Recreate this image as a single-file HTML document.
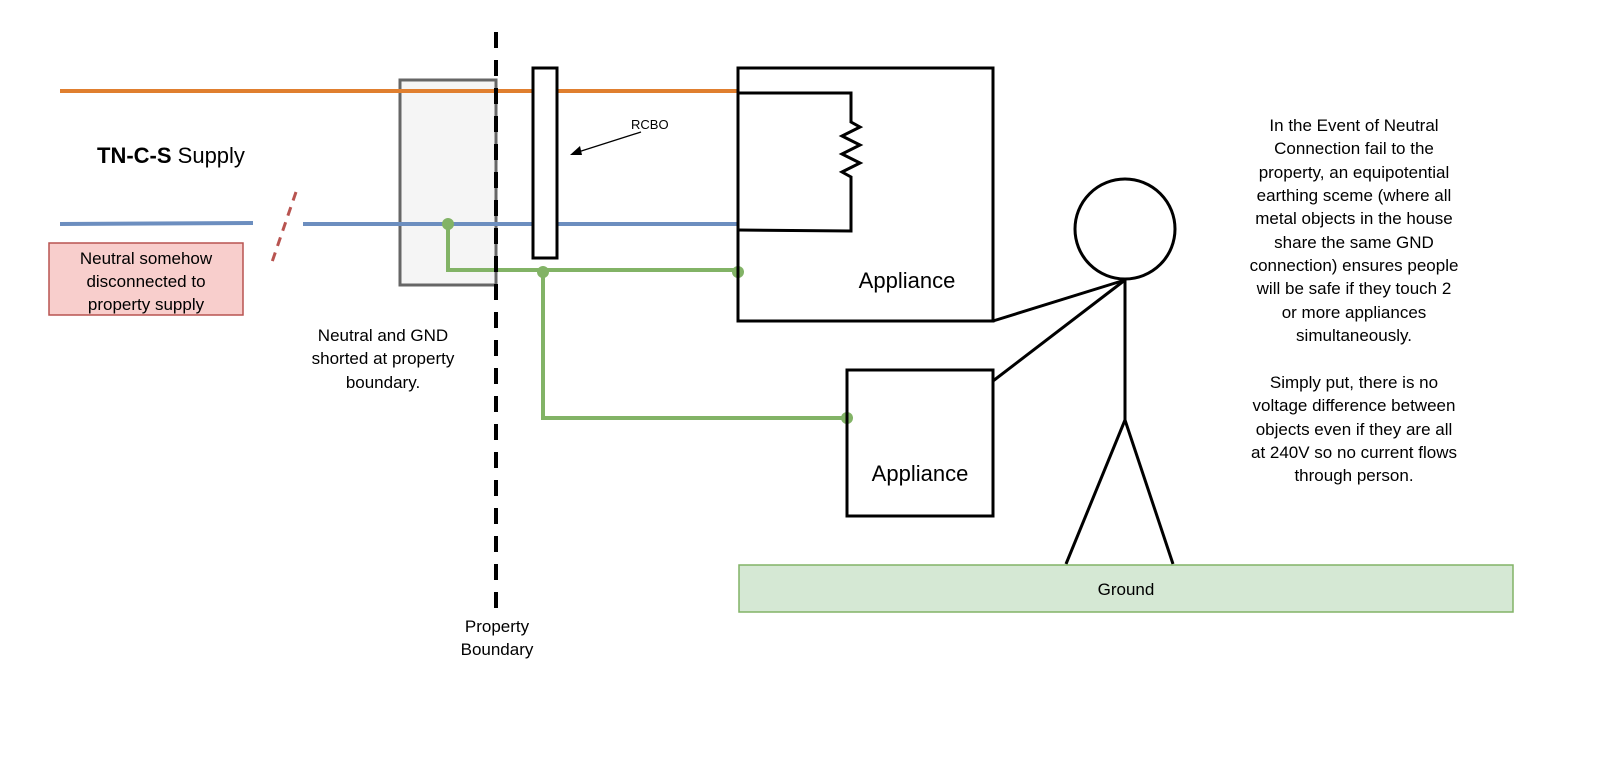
<!DOCTYPE html>
<html><head><meta charset="utf-8"><style>
html,body{margin:0;padding:0;background:#fff;}
svg{display:block;}
text{font-family:"Liberation Sans",Arial,sans-serif;fill:#000;}
</style></head><body>
<svg width="1600" height="784" viewBox="0 0 1600 784" xmlns="http://www.w3.org/2000/svg">
<!-- gray box -->
<rect x="400" y="80" width="96" height="205" fill="#f5f5f5" stroke="#666" stroke-width="3"/>
<!-- orange live -->
<line x1="60" y1="91" x2="738" y2="91" stroke="#e07f2f" stroke-width="4"/>
<!-- blue neutral -->
<line x1="60" y1="224" x2="253" y2="223" stroke="#6c8ebf" stroke-width="4"/>
<line x1="303" y1="224" x2="738" y2="224" stroke="#6c8ebf" stroke-width="4"/>
<!-- red dashed break -->
<line x1="296" y1="192" x2="271" y2="265" stroke="#b85450" stroke-width="3" stroke-dasharray="9,7"/>
<!-- red box -->
<rect x="49" y="243" width="194" height="72" fill="#f8cecc" stroke="#b85450" stroke-width="1.5"/>
<text x="146" y="264" font-size="17" text-anchor="middle">Neutral somehow</text>
<text x="146" y="287" font-size="17" text-anchor="middle">disconnected to</text>
<text x="146" y="310" font-size="17" text-anchor="middle">property supply</text>
<!-- TN-C-S -->
<text x="97" y="163" font-size="22"><tspan font-weight="bold">TN-C-S</tspan> Supply</text>
<!-- green wires -->
<polyline points="448,224 448,270 738,270" fill="none" stroke="#82b366" stroke-width="4"/>
<polyline points="543,270 543,418 847,418" fill="none" stroke="#82b366" stroke-width="4"/>
<circle cx="448" cy="224" r="6" fill="#82b366"/>
<circle cx="543" cy="272" r="6" fill="#82b366"/>
<circle cx="738" cy="272" r="6" fill="#82b366"/>
<circle cx="847" cy="418" r="6" fill="#82b366"/>
<!-- dashed property boundary -->
<line x1="496" y1="32" x2="496" y2="612" stroke="#000" stroke-width="4" stroke-dasharray="16,12"/>
<!-- RCBO -->
<rect x="533" y="68" width="24" height="190" fill="#fff" stroke="#000" stroke-width="3"/>
<text x="631" y="129" font-size="13">RCBO</text>
<line x1="641" y1="132" x2="575" y2="153" stroke="#000" stroke-width="1.3"/>
<polygon points="570,155 580,146 582,155" fill="#000"/>
<!-- appliance 1 -->
<rect x="738" y="68" width="255" height="253" fill="none" stroke="#000" stroke-width="3"/>
<polyline points="738,93 851,93 851,122 860,127 842,136 860,145 842,154 860,163 842,172 851,177 851,231 738,230" fill="none" stroke="#000" stroke-width="3"/>
<text x="907" y="288" font-size="22" text-anchor="middle">Appliance</text>
<!-- appliance 2 -->
<rect x="847" y="370" width="146" height="146" fill="none" stroke="#000" stroke-width="3"/>
<text x="920" y="481" font-size="22" text-anchor="middle">Appliance</text>
<!-- stick person -->
<circle cx="1125" cy="229" r="50" fill="none" stroke="#000" stroke-width="3"/>
<line x1="1125" y1="279" x2="1125" y2="420" stroke="#000" stroke-width="3"/>
<line x1="1125" y1="420" x2="1066" y2="564" stroke="#000" stroke-width="3"/>
<line x1="1125" y1="420" x2="1173" y2="564" stroke="#000" stroke-width="3"/>
<line x1="1125" y1="280" x2="993" y2="321" stroke="#000" stroke-width="3"/>
<line x1="1125" y1="280" x2="993" y2="381" stroke="#000" stroke-width="3"/>
<!-- ground -->
<rect x="739" y="565" width="774" height="47" fill="#d5e8d4" stroke="#82b366" stroke-width="1.5"/>
<text x="1126" y="595" font-size="17" text-anchor="middle">Ground</text>
<!-- labels -->
<text x="383" y="341" font-size="17" text-anchor="middle">Neutral and GND</text>
<text x="383" y="364" font-size="17" text-anchor="middle">shorted at property</text>
<text x="383" y="388" font-size="17" text-anchor="middle">boundary.</text>
<text x="497" y="632" font-size="17" text-anchor="middle">Property</text>
<text x="497" y="655" font-size="17" text-anchor="middle">Boundary</text>
<g font-size="17" text-anchor="middle">
<text x="1354" y="131">In the Event of Neutral</text>
<text x="1354" y="154">Connection fail to the</text>
<text x="1354" y="178">property, an equipotential</text>
<text x="1354" y="201">earthing sceme (where all</text>
<text x="1354" y="224">metal objects in the house</text>
<text x="1354" y="248">share the same GND</text>
<text x="1354" y="271">connection) ensures people</text>
<text x="1354" y="294">will be safe if they touch 2</text>
<text x="1354" y="318">or more appliances</text>
<text x="1354" y="341">simultaneously.</text>
<text x="1354" y="388">Simply put, there is no</text>
<text x="1354" y="411">voltage difference between</text>
<text x="1354" y="435">objects even if they are all</text>
<text x="1354" y="458">at 240V so no current flows</text>
<text x="1354" y="481">through person.</text>
</g>
</svg>
</body></html>
